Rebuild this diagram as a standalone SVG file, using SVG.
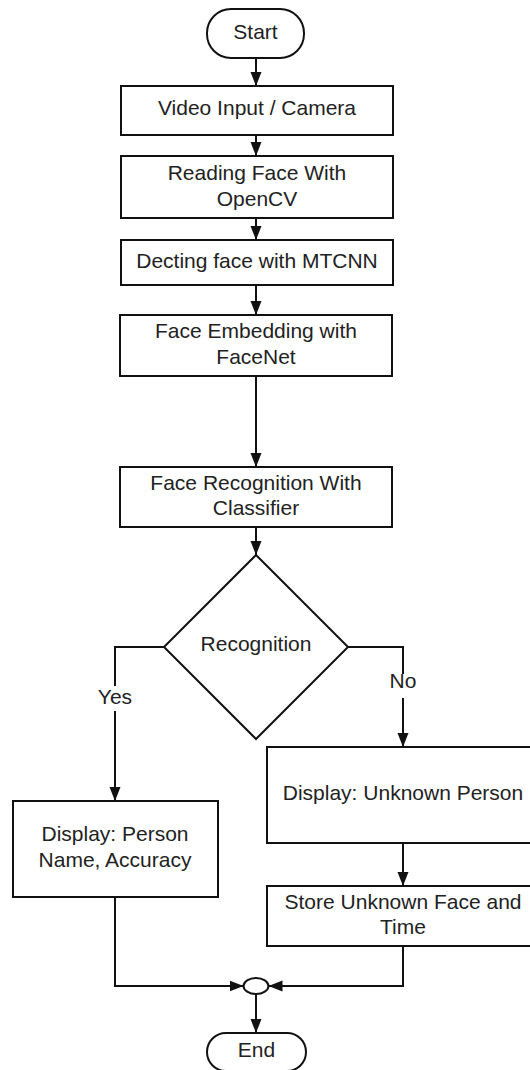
<svg xmlns="http://www.w3.org/2000/svg" width="530" height="1070" viewBox="0 0 530 1070">
<defs>
<style>
.n{fill:#fff;stroke:#111;stroke-width:2}
.t{font-family:"Liberation Sans",Arial,sans-serif;font-size:21px;fill:#222;text-anchor:middle}
.c{fill:none;stroke:#111;stroke-width:2}
.lb{fill:#fff;stroke:none}
</style>
<marker id="ah" markerUnits="userSpaceOnUse" markerWidth="16" markerHeight="14" refX="14" refY="6" orient="auto">
<path d="M0,0.5 L14,6 L0,11.5 Z" fill="#111"/>
</marker>
</defs>
<rect width="530" height="1070" fill="#fff"/>
<g id="connectors">
<path class="c" d="M256,58 V86" marker-end="url(#ah)"/>
<path class="c" d="M256,135 V156" marker-end="url(#ah)"/>
<path class="c" d="M256,218 V240" marker-end="url(#ah)"/>
<path class="c" d="M256,285 V315" marker-end="url(#ah)"/>
<path class="c" d="M256,376 V467" marker-end="url(#ah)"/>
<path class="c" d="M256,527 V555" marker-end="url(#ah)"/>
<path class="c" d="M164,647 H115 V801" marker-end="url(#ah)"/>
<path class="c" d="M348,647 H403 V747" marker-end="url(#ah)"/>
<path class="c" d="M403,843 V886" marker-end="url(#ah)"/>
<path class="c" d="M115,897 V986 H243.5" marker-end="url(#ah)"/>
<path class="c" d="M403,946 V986 H268.5" marker-end="url(#ah)"/>
<path class="c" d="M256,994 V1033" marker-end="url(#ah)"/>
<rect class="lb" x="98" y="686" width="34" height="25"/>
<text class="t" x="115" y="703.5">Yes</text>
<rect class="lb" x="389" y="674" width="28" height="24"/>
<text class="t" x="403" y="688">No</text>
</g>
<g id="start">
<rect class="n" x="207" y="9" width="97" height="49" rx="24" ry="24"/>
<text class="t" x="255.5" y="38.5">Start</text>
</g>
<g id="video-input">
<rect class="n" x="121" y="86" width="272" height="49"/>
<text class="t" x="257" y="115">Video Input / Camera</text>
</g>
<g id="reading-face">
<rect class="n" x="121" y="156" width="272" height="62"/>
<text class="t" x="257" y="180">Reading Face With</text>
<text class="t" x="257" y="206">OpenCV</text>
</g>
<g id="detecting-face">
<rect class="n" x="121" y="240" width="272" height="45"/>
<text class="t" x="257" y="267.5">Decting face with MTCNN</text>
</g>
<g id="face-embedding">
<rect class="n" x="120" y="315" width="272" height="61"/>
<text class="t" x="256" y="337.5">Face Embedding with</text>
<text class="t" x="256" y="363.5">FaceNet</text>
</g>
<g id="face-recognition">
<rect class="n" x="120" y="467" width="272" height="60"/>
<text class="t" x="256" y="489.5">Face Recognition With</text>
<text class="t" x="256" y="515">Classifier</text>
</g>
<g id="recognition">
<path class="n" d="M256,555 L348,647 L256,739 L164,647 Z"/>
<text class="t" x="256" y="651">Recognition</text>
</g>
<g id="display-person">
<rect class="n" x="13" y="801" width="205" height="96"/>
<text class="t" x="115" y="841">Display: Person</text>
<text class="t" x="115" y="866.5">Name, Accuracy</text>
</g>
<g id="display-unknown">
<rect class="n" x="267" y="747" width="280" height="96"/>
<text class="t" x="403" y="799.5">Display: Unknown Person</text>
</g>
<g id="store-unknown">
<rect class="n" x="267" y="886" width="280" height="60"/>
<text class="t" x="403" y="908.5">Store Unknown Face and</text>
<text class="t" x="403" y="933.5">Time</text>
</g>
<g id="merge">
<ellipse class="n" cx="256" cy="986" rx="12.5" ry="8"/>
</g>
<g id="end">
<rect class="n" x="207" y="1033" width="99" height="38" rx="19" ry="19"/>
<text class="t" x="256.5" y="1057">End</text>
</g>
</svg>
